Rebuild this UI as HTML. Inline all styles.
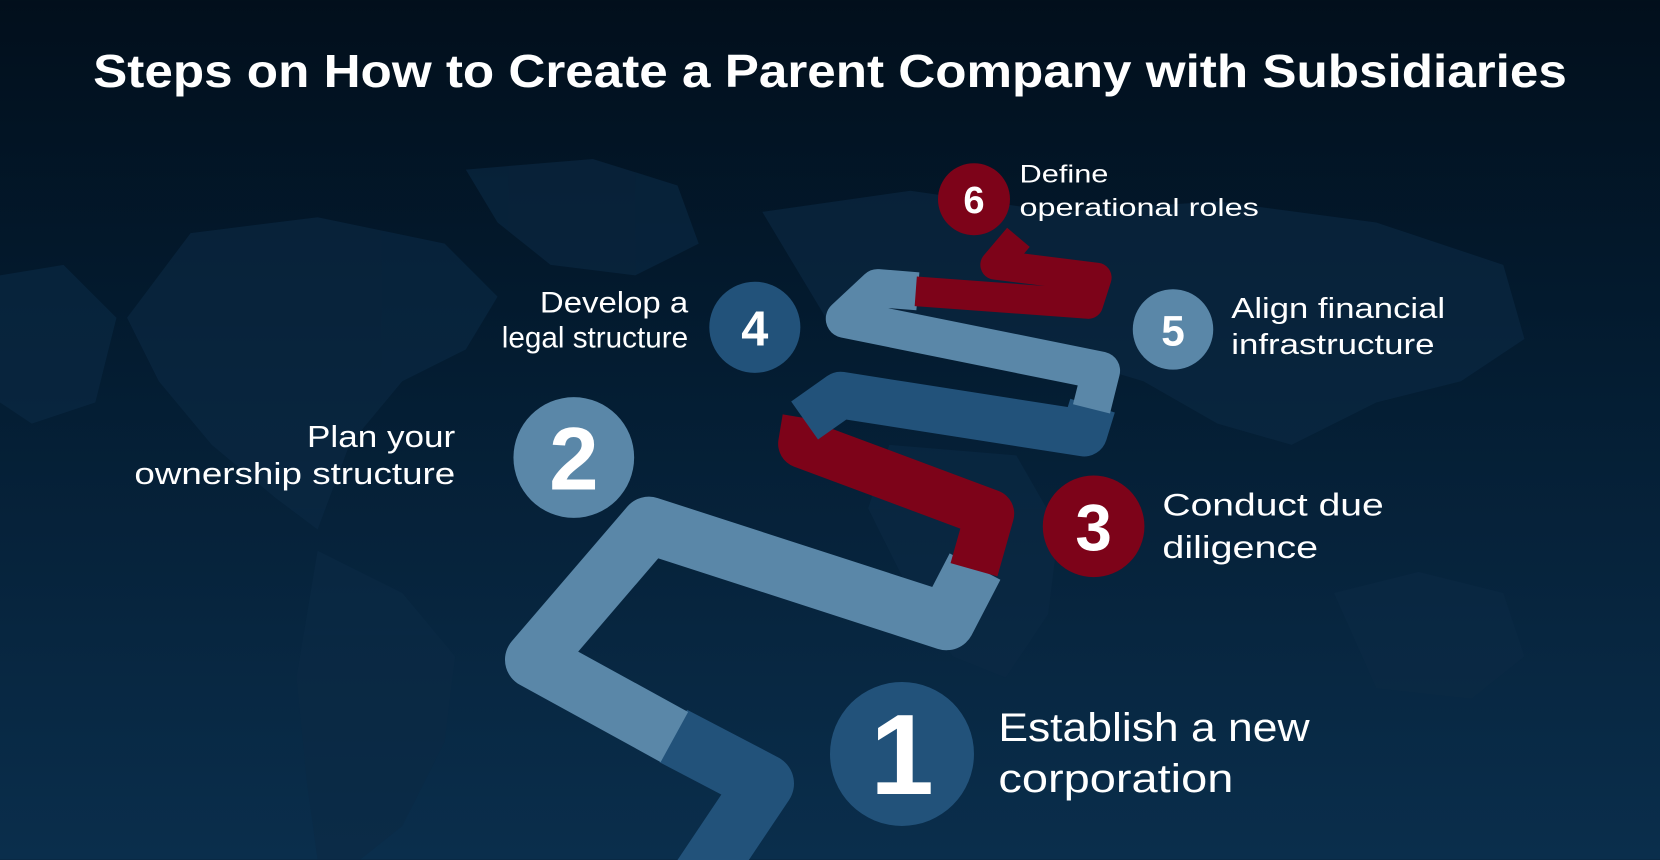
<!DOCTYPE html>
<html><head><meta charset="utf-8"><style>
html,body{margin:0;padding:0;background:#03121f;}
svg{display:block;}
</style></head><body>
<svg width="1660" height="860" viewBox="0 0 1568 812" xmlns="http://www.w3.org/2000/svg" font-family="'Liberation Sans', sans-serif">
<defs>
<linearGradient id="bg" x1="0" y1="0" x2="0" y2="1">
<stop offset="0" stop-color="#020f1c"/>
<stop offset="0.35" stop-color="#031a2e"/>
<stop offset="1" stop-color="#0a2e4c"/>
</linearGradient>
</defs>
<rect width="1568" height="812" fill="url(#bg)"/>
<g fill="#0b2a45" opacity="0.6">
<path d="M180 220 L300 205 L420 230 L470 280 L440 330 L380 360 L330 420 L300 500 L260 470 L200 420 L150 360 L120 300 Z"/>
<path d="M440 160 L560 150 L640 175 L660 230 L600 260 L520 250 L470 210 Z"/>
<path d="M300 520 L380 560 L430 620 L420 700 L380 780 L340 812 L300 812 L290 740 L280 640 Z"/>
<path d="M720 200 L860 180 L1000 200 L1150 190 L1300 210 L1420 250 L1440 320 L1380 360 L1300 380 L1220 420 L1150 400 L1080 360 L980 330 L880 330 L780 300 Z"/>
<path d="M840 420 L960 430 L1000 500 L990 580 L950 640 L900 620 L860 560 L820 480 Z"/>
<path d="M1260 560 L1340 540 L1420 560 L1440 620 L1390 660 L1300 650 Z"/>
<path d="M0 260 L60 250 L110 300 L90 380 L30 400 L0 380 Z"/>
</g>
<g fill="none" stroke-linecap="butt" stroke-linejoin="round">
<path d="M655 840 L722 740 L636 695" stroke="#22527a" stroke-width="56"/>
<path d="M637 696 L504 623 L613 496 L894 587 L921 535" stroke="#5a87a8" stroke-width="54"/>
<path d="M920 538 L935 485 L758 419 L762 395" stroke="#7d0319" stroke-width="46"/>
<path d="M760 397 L794 373 L1024 409 L1032 383" stroke="#22527a" stroke-width="44"/>
<path d="M1031 386 L1040 350 L798 301 L829 272 L867 275" stroke="#5a87a8" stroke-width="36"/>
<path d="M865 275 L1028 287 L1036 262 L940 250 L962 224" stroke="#7d0319" stroke-width="28"/>
</g>
<g fill="#fff" font-weight="bold" text-anchor="middle">
<circle cx="852" cy="712" r="68" fill="#22527a"/>
<text x="852" y="750" font-size="108">1</text>
<circle cx="542" cy="432" r="57" fill="#5a87a8"/>
<text x="542" y="462" font-size="84">2</text>
<circle cx="1033" cy="497" r="48" fill="#7d0319"/>
<text x="1033" y="520" font-size="62">3</text>
<circle cx="713" cy="309" r="43" fill="#22527a"/>
<text x="713" y="326" font-size="46">4</text>
<circle cx="1108" cy="311" r="38" fill="#5a87a8"/>
<text x="1108" y="326" font-size="40">5</text>
<circle cx="920" cy="188" r="34" fill="#7d0319"/>
<text x="920" y="201" font-size="36">6</text>
</g>
<g fill="#fff">
<text x="784" y="82" font-size="44" font-weight="bold" text-anchor="middle" textLength="1392" lengthAdjust="spacingAndGlyphs">Steps on How to Create a Parent Company with Subsidiaries</text>
<text x="510" y="295" font-size="28" textLength="140" lengthAdjust="spacingAndGlyphs">Develop a</text>
<text x="474" y="328" font-size="28" textLength="176" lengthAdjust="spacingAndGlyphs">legal structure</text>
<text x="290" y="422" font-size="29" textLength="140" lengthAdjust="spacingAndGlyphs">Plan your</text>
<text x="127" y="457" font-size="29" textLength="303" lengthAdjust="spacingAndGlyphs">ownership structure</text>
<text x="1098" y="487" font-size="30" textLength="209" lengthAdjust="spacingAndGlyphs">Conduct due</text>
<text x="1098" y="527" font-size="30" textLength="147" lengthAdjust="spacingAndGlyphs">diligence</text>
<text x="943" y="700" font-size="38" textLength="294" lengthAdjust="spacingAndGlyphs">Establish a new</text>
<text x="943" y="748" font-size="38" textLength="222" lengthAdjust="spacingAndGlyphs">corporation</text>
<text x="1163" y="300" font-size="27" textLength="202" lengthAdjust="spacingAndGlyphs">Align financial</text>
<text x="1163" y="334" font-size="27" textLength="192" lengthAdjust="spacingAndGlyphs">infrastructure</text>
<text x="963" y="172" font-size="24" textLength="84" lengthAdjust="spacingAndGlyphs">Define</text>
<text x="963" y="204" font-size="24" textLength="226" lengthAdjust="spacingAndGlyphs">operational roles</text>
</g>
</svg>
</body></html>
